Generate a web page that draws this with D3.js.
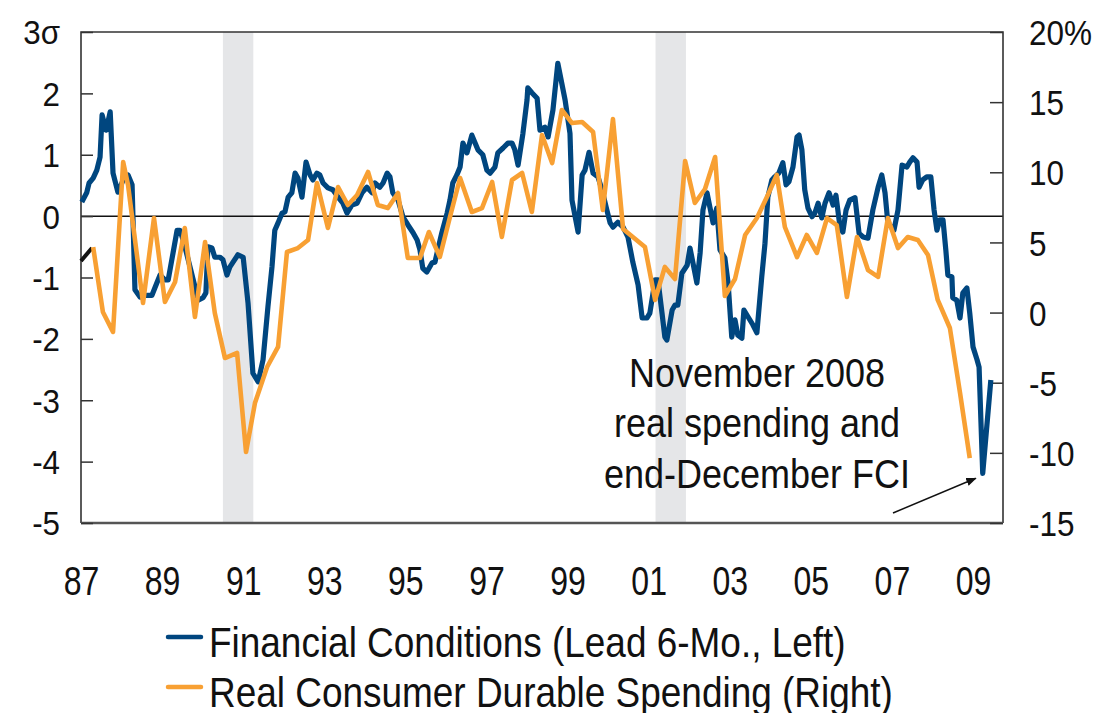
<!DOCTYPE html>
<meta charset="utf-8">
<html>
<head>
  <title>Financial Conditions vs Durable Spending</title>
  <style>
    html, body { margin: 0; padding: 0; background: #fff; }
    text { font-family: 'Liberation Sans', Arial, sans-serif; fill: #111; }
    .axis.left text { font-size: 33px; }
    .axis.right text { font-size: 35px; }
    .axis.x text { font-size: 40px; }
    .legend text { font-size: 42px; }
    .note text { font-size: 40px; }
  </style>
</head>
<body>
<svg xmlns="http://www.w3.org/2000/svg"></svg>
<script src="https://d3js.org/d3.v7.min.js"></script>
<script>
var width = 1100, height = 713;
var margin = {top: 32, right: 97, bottom: 190, left: 81};

// financial conditions index, lead 6 months (sigma, left axis)
var fci = [
  [1987.02,0.23],[1987.14,0.38],[1987.20,0.54],[1987.30,0.62],[1987.39,0.75],[1987.47,0.96],[1987.52,1.65],[1987.62,1.40],
  [1987.72,1.70],[1987.79,0.70],[1987.91,0.39],[1988.04,0.59],[1988.16,0.67],[1988.26,0.51],[1988.33,-1.20],[1988.46,-1.32],
  [1988.58,-1.29],[1988.75,-1.29],[1988.87,-1.09],[1988.95,-0.96],[1989.07,-1.04],[1989.15,-1.04],[1989.27,-0.60],[1989.37,-0.23],
  [1989.44,-0.23],[1989.52,-0.39],[1989.69,-0.83],[1989.81,-1.15],[1989.89,-1.37],[1990.01,-1.33],[1990.08,-1.25],[1990.13,-0.50],
  [1990.23,-0.52],[1990.30,-0.67],[1990.43,-0.67],[1990.50,-0.71],[1990.60,-0.96],[1990.67,-0.83],[1990.75,-0.75],[1990.87,-0.63],
  [1991.00,-0.67],[1991.12,-1.42],[1991.24,-2.56],[1991.37,-2.70],[1991.49,-2.34],[1991.61,-1.48],[1991.71,-0.83],[1991.78,-0.23],
  [1991.86,-0.11],[1991.96,0.05],[1992.03,0.07],[1992.11,0.31],[1992.20,0.38],[1992.28,0.70],[1992.35,0.62],[1992.45,0.31],
  [1992.55,0.88],[1992.65,0.67],[1992.72,0.59],[1992.82,0.70],[1992.89,0.67],[1992.97,0.54],[1993.09,0.46],[1993.21,0.43],
  [1993.34,0.31],[1993.46,0.21],[1993.56,0.05],[1993.68,0.18],[1993.81,0.21],[1993.93,0.38],[1994.05,0.47],[1994.18,0.38],
  [1994.25,0.54],[1994.37,0.47],[1994.45,0.54],[1994.55,0.70],[1994.62,0.64],[1994.69,0.38],[1994.82,0.26],[1994.94,-0.01],
  [1995.06,-0.14],[1995.19,-0.27],[1995.29,-0.39],[1995.36,-0.55],[1995.43,-0.85],[1995.53,-0.91],[1995.66,-0.76],[1995.73,-0.75],
  [1995.80,-0.55],[1995.90,-0.27],[1996.03,0.05],[1996.10,0.26],[1996.17,0.54],[1996.27,0.67],[1996.35,0.80],[1996.42,1.19],
  [1996.52,1.03],[1996.64,1.32],[1996.72,1.19],[1996.79,1.08],[1996.91,1.00],[1997.01,0.75],[1997.09,0.70],[1997.21,0.80],
  [1997.28,1.03],[1997.41,1.11],[1997.53,1.19],[1997.63,1.19],[1997.70,1.08],[1997.78,0.83],[1997.90,1.35],[1998.00,1.89],
  [1998.02,2.09],[1998.12,2.01],[1998.25,1.92],[1998.32,1.40],[1998.44,1.45],[1998.52,1.29],[1998.64,1.73],[1998.76,2.49],
  [1998.94,1.89],[1999.06,1.35],[1999.11,0.26],[1999.26,-0.26],[1999.36,0.67],[1999.43,0.75],[1999.53,1.04],[1999.63,0.70],
  [1999.75,0.64],[1999.85,0.43],[1999.97,0.10],[2000.05,-0.11],[2000.12,-0.18],[2000.24,-0.10],[2000.37,-0.18],[2000.49,-0.34],
  [2000.61,-0.75],[2000.74,-1.12],[2000.84,-1.66],[2000.96,-1.66],[2001.03,-1.58],[2001.16,-1.04],[2001.23,-1.04],[2001.33,-1.58],
  [2001.40,-1.97],[2001.45,-2.02],[2001.58,-1.53],[2001.65,-1.45],[2001.72,-1.45],[2001.82,-0.93],[2001.95,-0.80],[2002.02,-0.52],
  [2002.09,-0.75],[2002.19,-1.09],[2002.27,-0.60],[2002.34,0.10],[2002.44,0.38],[2002.51,0.15],[2002.59,-0.11],[2002.68,0.13],
  [2002.76,-0.55],[2002.88,-0.68],[2002.96,-1.09],[2003.05,-1.97],[2003.13,-1.69],[2003.20,-1.94],[2003.30,-1.99],[2003.35,-1.53],
  [2003.45,-1.64],[2003.57,-1.77],[2003.67,-1.90],[2003.79,-0.99],[2003.87,-0.44],[2003.94,0.31],[2004.04,0.59],[2004.11,0.64],
  [2004.21,0.70],[2004.31,0.87],[2004.39,0.51],[2004.46,0.56],[2004.56,0.80],[2004.66,1.29],[2004.71,1.32],[2004.78,1.08],
  [2004.85,0.43],[2004.93,0.13],[2005.03,-0.01],[2005.10,0.05],[2005.18,0.21],[2005.27,-0.03],[2005.35,0.21],[2005.45,0.38],
  [2005.55,0.18],[2005.62,0.34],[2005.72,-0.18],[2005.79,-0.26],[2005.87,0.10],[2005.96,0.26],[2006.09,0.30],[2006.19,-0.28],
  [2006.29,-0.34],[2006.41,-0.36],[2006.53,0.10],[2006.66,0.47],[2006.75,0.67],[2006.83,0.38],[2006.90,-0.11],[2007.05,-0.23],
  [2007.15,0.10],[2007.25,0.83],[2007.37,0.80],[2007.44,0.88],[2007.52,0.95],[2007.62,0.88],[2007.67,0.47],[2007.76,0.59],
  [2007.86,0.64],[2007.96,0.64],[2008.04,0.10],[2008.11,-0.23],[2008.18,-0.06],[2008.26,-0.06],[2008.33,-0.55],[2008.38,-0.96],
  [2008.48,-0.99],[2008.50,-1.33],[2008.60,-1.37],[2008.68,-1.66],[2008.75,-1.25],[2008.85,-1.17],[2008.92,-1.58],[2009.00,-2.13],
  [2009.10,-2.34],[2009.15,-2.46],[2009.24,-4.19],[2009.44,-2.67]
];

// real consumer durable spending, % y/y (right axis)
var spending = [
  [1987.30,4.67],[1987.54,0.04],[1987.79,-1.38],[1988.04,10.73],[1988.16,9.09],[1988.53,0.68],[1988.80,6.74],[1989.07,0.75],
  [1989.32,2.18],[1989.56,6.03],[1989.81,-0.32],[1990.06,5.03],[1990.30,-0.03],[1990.55,-3.24],[1990.85,-2.88],[1991.07,-9.94],
  [1991.29,-6.45],[1991.59,-3.88],[1991.86,-2.45],[1992.08,4.32],[1992.35,4.60],[1992.60,5.17],[1992.82,9.24],[1993.09,6.03],
  [1993.34,8.95],[1993.58,7.67],[1993.81,8.38],[1994.08,10.02],[1994.32,7.67],[1994.57,7.45],[1994.82,8.52],[1995.06,3.89],
  [1995.36,3.89],[1995.58,5.74],[1995.85,3.96],[1996.10,6.81],[1996.35,9.59],[1996.64,7.17],[1996.89,7.45],[1997.14,9.31],
  [1997.38,5.39],[1997.63,9.45],[1997.88,9.95],[1998.12,7.17],[1998.37,12.66],[1998.62,10.66],[1998.86,14.44],[1999.11,13.51],
  [1999.36,13.58],[1999.63,12.87],[1999.87,7.31],[2000.12,13.80],[2000.37,5.96],[2000.91,4.67],[2001.16,0.90],[2001.40,3.25],
  [2001.65,2.39],[2001.90,10.80],[2002.14,7.81],[2002.39,8.81],[2002.64,11.09],[2002.88,1.18],[2003.13,2.39],[2003.38,5.53],
  [2003.67,6.74],[2003.94,8.38],[2004.16,9.81],[2004.36,6.10],[2004.66,3.96],[2004.90,5.53],[2005.15,4.25],[2005.40,6.74],
  [2005.64,6.24],[2005.89,1.11],[2006.14,5.39],[2006.41,3.03],[2006.66,2.54],[2006.90,6.74],[2007.15,4.60],[2007.39,5.39],
  [2007.64,5.17],[2007.89,4.10],[2008.13,0.90],[2008.43,-1.10],[2008.68,-5.73],[2008.92,-10.37]
];

// short black stub at the very start of the chart (left axis)
var stub = [[1987.00,-0.73],[1987.27,-0.52]];

var recessions = [[1990.50,1991.25],[2001.17,2001.92]];
var yearTicks = [1987,1989,1991,1993,1995,1997,1999,2001,2003,2005,2007,2009];
var leftTicks = [-5,-4,-3,-2,-1,0,1,2,3];
var rightTicks = [-15,-10,-5,0,5,10,15,20];
var legendLabels = ['Financial Conditions (Lead 6-Mo., Left)', 'Real Consumer Durable Spending (Right)'];
var noteLines = ['November 2008', 'real spending and', 'end-December FCI'];

var blue = '#00467f', orange = '#f8a033';

var svg = d3.select('svg').attr('width', width).attr('height', height);

var x = d3.scaleLinear().domain([1987, 2009.74]).range([margin.left, width - margin.right]);
var yL = d3.scaleLinear().domain([-5, 3]).range([height - margin.bottom, margin.top]);
var yR = d3.scaleLinear().domain([-15, 20]).range([height - margin.bottom, margin.top]);

// squeeze text horizontally around its x so it reads like a condensed face
function condense(sel, s) {
  sel.each(function() {
    var t = d3.select(this), cx = +t.attr('x') || 0;
    t.attr('transform', 'translate(' + cx + ',0) scale(' + s + ',1) translate(' + (-cx) + ',0)');
  });
}

// recession shading
svg.append('g').selectAll('rect').data(recessions).enter().append('rect')
  .attr('x', function(d){ return x(d[0]); })
  .attr('width', function(d){ return x(d[1]) - x(d[0]); })
  .attr('y', margin.top)
  .attr('height', yL(-5) - yL(3))
  .attr('fill', '#e5e6e8');

// zero line
svg.append('line')
  .attr('x1', x.range()[0]).attr('x2', x.range()[1])
  .attr('y1', yL(0)).attr('y2', yL(0))
  .attr('stroke', '#111').attr('stroke-width', 1.5);

// frame
svg.append('path')
  .attr('d', 'M' + x.range()[0] + ',' + yL(-5) + 'V' + yL(3) + 'H' + x.range()[1] + 'V' + yL(-5))
  .attr('fill', 'none').attr('stroke', '#333').attr('stroke-width', 1.6);
svg.append('line')
  .attr('x1', x.range()[0]).attr('x2', x.range()[1])
  .attr('y1', yL(-5)).attr('y2', yL(-5))
  .attr('stroke', '#555').attr('stroke-width', 2.5);

// axes
var leftAxis = svg.append('g').attr('class', 'axis left')
  .attr('transform', 'translate(' + margin.left + ',0)')
  .call(d3.axisLeft(yL).tickValues(leftTicks).tickSize(-12).tickPadding(21)
    .tickFormat(function(d){ return d === 3 ? '3\u03c3' : d; }));
var rightAxis = svg.append('g').attr('class', 'axis right')
  .attr('transform', 'translate(' + (width - margin.right) + ',0)')
  .call(d3.axisRight(yR).tickValues(rightTicks).tickSize(-13).tickPadding(26)
    .tickFormat(function(d){ return d === 20 ? '20%' : d; }));
var bottomAxis = svg.append('g').attr('class', 'axis x')
  .attr('transform', 'translate(0,' + (height - margin.bottom) + ')')
  .call(d3.axisBottom(x).tickValues(yearTicks).tickSize(0).tickPadding(44)
    .tickFormat(function(d){ return String(d).slice(2); }));

svg.selectAll('.axis .domain').remove();
svg.selectAll('.axis .tick line').attr('stroke', '#333').attr('stroke-width', 1.5);
svg.selectAll('.axis text').attr('fill', '#111');
leftAxis.selectAll('text').attr('dy', '0.36em');
rightAxis.selectAll('text').attr('dy', '0.36em');
condense(leftAxis.selectAll('text'), 0.95);
condense(rightAxis.selectAll('text'), 0.9);
condense(bottomAxis.selectAll('text'), 0.8);

// lines
var lineL = d3.line().x(function(d){ return x(d[0]); }).y(function(d){ return yL(d[1]); });
var lineR = d3.line().x(function(d){ return x(d[0]); }).y(function(d){ return yR(d[1]); });

svg.append('path').datum(stub).attr('d', lineL)
  .attr('fill', 'none').attr('stroke', '#111').attr('stroke-width', 4);
svg.append('path').datum(fci).attr('d', lineL)
  .attr('fill', 'none').attr('stroke', blue).attr('stroke-width', 5.2)
  .attr('stroke-linejoin', 'round');
svg.append('path').datum(spending).attr('d', lineR)
  .attr('fill', 'none').attr('stroke', orange).attr('stroke-width', 4.6)
  .attr('stroke-linejoin', 'round');

// annotation
var note = svg.append('g').attr('class', 'note');
var noteText = note.append('text').attr('text-anchor', 'middle').attr('x', 757);
noteText.selectAll('tspan').data(noteLines).enter().append('tspan')
  .attr('x', 757)
  .attr('y', function(d, i){ return 387 + i * 50.5; })
  .text(function(d){ return d; });
condense(noteText, 0.9);

var trough = fci[fci.length - 2];
var tx = x(trough[0]) - 7, ty = yL(trough[1]) + 5;
svg.append('defs').append('marker')
  .attr('id', 'arrow').attr('viewBox', '0 0 10 10').attr('refX', 9).attr('refY', 5)
  .attr('markerWidth', 7).attr('markerHeight', 7).attr('orient', 'auto')
  .append('path').attr('d', 'M0,1L10,5L0,9Z').attr('fill', '#111');
svg.append('line')
  .attr('x1', 893).attr('y1', 513).attr('x2', tx).attr('y2', ty)
  .attr('stroke', '#111').attr('stroke-width', 1.5)
  .attr('marker-end', 'url(#arrow)');

// legend
var legend = svg.append('g').attr('class', 'legend');
var items = legend.selectAll('g').data(legendLabels).enter().append('g')
  .attr('transform', function(d, i){ return 'translate(168,' + (643 + i * 50) + ')'; });
items.append('line')
  .attr('x1', 0).attr('x2', 33).attr('y1', -6).attr('y2', -6)
  .attr('stroke', function(d, i){ return i === 0 ? blue : orange; })
  .attr('stroke-width', 4.5).attr('stroke-linecap', 'round');
var legendText = items.append('text').attr('x', 41).attr('y', 14).text(function(d){ return d; });
condense(legendText, 0.88);
</script>
</body>
</html>
